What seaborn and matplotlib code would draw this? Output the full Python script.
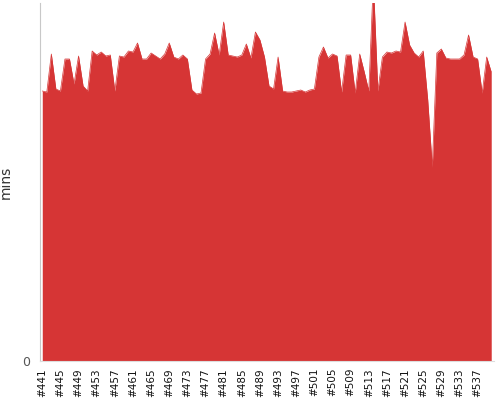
import matplotlib
matplotlib.use("Agg")
import matplotlib.pyplot as plt
from matplotlib.ticker import MultipleLocator
import seaborn as sns
import pandas as pd

builds = [f"#{n}" for n in range(441, 541)]
mins = [27.0, 26.9, 30.7, 27.2, 27.0, 30.2, 30.2, 27.7, 30.5, 27.5,
        27.0, 31.0, 30.6, 30.9, 30.5, 30.6, 27.0, 30.5, 30.4, 31.0,
        30.9, 31.8, 30.2, 30.2, 30.8, 30.5, 30.2, 30.7, 31.8, 30.4,
        30.2, 30.6, 30.2, 27.1, 26.7, 26.8, 30.2, 30.7, 32.8, 30.6,
        33.9, 30.6, 30.5, 30.4, 30.6, 31.7, 30.3, 32.9, 32.1, 30.4,
        27.5, 27.2, 30.4, 27.0, 26.9, 26.9, 27.0, 27.1, 26.9, 27.1,
        27.2, 30.4, 31.4, 30.3, 30.7, 30.5, 26.9, 30.6, 30.6, 26.8,
        30.7, 28.9, 27.0, 38.0, 27.0, 30.4, 30.9, 30.8, 31.0, 30.9,
        33.9, 31.6, 30.8, 30.4, 31.0, 26.1, 19.4, 30.8, 31.2, 30.3,
        30.2, 30.2, 30.2, 30.6, 32.6, 30.4, 30.2, 26.8, 30.4, 28.9]

df = pd.DataFrame({"build": builds, "mins": mins, "idx": range(len(builds))})

sns.set_style("white")
plt.rcParams['font.family'] = ['DejaVu Sans']

fig = plt.figure(figsize=(5, 4), dpi=100)
ax = fig.add_axes([0.08, 0.0975, 0.907, 0.895])

color = "#d63535"
ax.fill_between(df["idx"], 0, df["mins"], color=color, linewidth=0)
sns.lineplot(data=df, x="idx", y="mins", ax=ax, color=color, linewidth=0.5)

ax.set_xlim(-0.5, len(builds) - 0.5)
ax.set_ylim(0, 35.8)

ax.set_yticks([0])
ax.set_yticklabels(["0"], color="#555555", fontsize=9)
ax.tick_params(axis="y", length=4, color="#bbbbbb", width=1, pad=3)

major = list(range(0, len(builds), 4))
ax.set_xticks(major)
ax.set_xticklabels([builds[i] for i in major], rotation=90, fontsize=7.5, color="#111111")
ax.xaxis.set_minor_locator(MultipleLocator(1))
ax.tick_params(axis="x", which="both", length=3, color="#bbbbbb", width=0.8, pad=2)

ax.set_xlabel("")
ax.set_ylabel("mins", fontsize=10, color="#333333")
ax.yaxis.set_label_coords(-0.06, 0.5)

for side in ["top", "right"]:
    ax.spines[side].set_visible(False)
ax.spines["left"].set_color("#c8c8c8")
ax.spines["bottom"].set_color("#dddddd")
ax.spines["bottom"].set_linewidth(0.8)

fig.savefig("out.png", dpi=100)
